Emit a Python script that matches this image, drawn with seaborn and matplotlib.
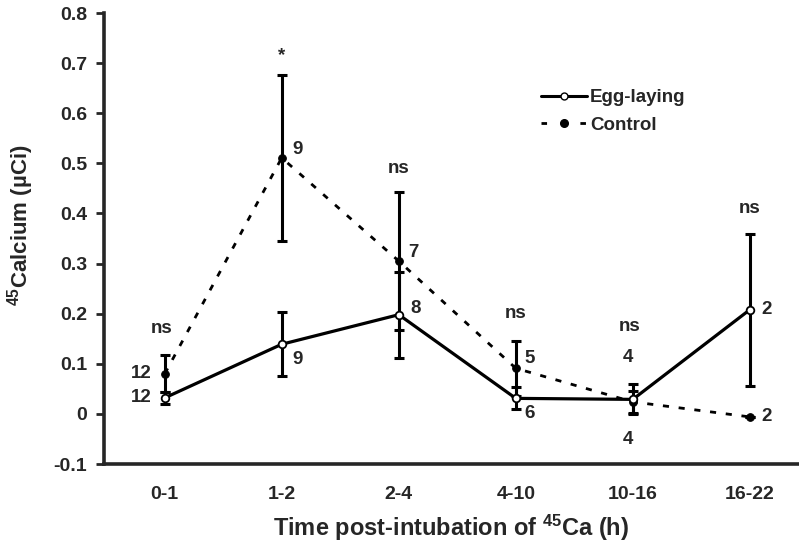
import numpy as np
import pandas as pd
import matplotlib
matplotlib.use("Agg")
import matplotlib.pyplot as plt
import seaborn as sns
from matplotlib.lines import Line2D

categories = ["0-1", "1-2", "2-4", "4-10", "10-16", "16-22"]
egg_mean = [0.032, 0.139, 0.198, 0.031, 0.029, 0.208]
egg_err = [0.012, 0.064, 0.086, 0.022, 0.030, 0.152]
ctrl_mean = [0.080, 0.511, 0.305, 0.091, 0.024, -0.006]
ctrl_err = [0.037, 0.165, 0.138, 0.055, 0.022, 0.0]
egg_n = ["12", "9", "8", "6", "4", "2"]
ctrl_n = ["12", "9", "7", "5", "4", "2"]
signif = ["ns", "*", "ns", "ns", "ns", "ns"]
signif_y = [0.17, 0.715, 0.49, 0.20, 0.174, 0.41]

sns.set_style("ticks")
plt.rcParams["font.family"] = ["Liberation Sans", "DejaVu Sans"]
plt.rcParams["font.weight"] = "bold"
plt.rcParams["mathtext.fontset"] = "custom"
plt.rcParams["mathtext.rm"] = "Liberation Sans:bold"
plt.rcParams["mathtext.bf"] = "Liberation Sans:bold"
plt.rcParams["mathtext.default"] = "bf"

x = np.arange(len(categories))
df = pd.DataFrame({
    "x": np.concatenate([x, x]),
    "y": egg_mean + ctrl_mean,
    "group": ["Egg-laying"] * len(x) + ["Control"] * len(x),
})

fig = plt.figure(figsize=(7.99, 5.45), dpi=100)
ax = fig.add_axes([0.130, 0.1486, 0.870, 0.8275])

# error bars
ax.errorbar(x, ctrl_mean, yerr=ctrl_err, fmt="none", ecolor="black",
            elinewidth=2.2, capsize=3.5, capthick=2.2, zorder=2)
ax.errorbar(x, egg_mean, yerr=egg_err, fmt="none", ecolor="black",
            elinewidth=2.2, capsize=3.5, capthick=2.2, zorder=2)

sns.lineplot(data=df[df.group == "Control"], x="x", y="y", ax=ax,
             color="black", linewidth=2.0, linestyle=(0, (2.2, 3.5)),
             marker="o", markersize=5.5, markerfacecolor="black",
             markeredgecolor="black", zorder=3, legend=False)
sns.lineplot(data=df[df.group == "Egg-laying"], x="x", y="y", ax=ax,
             color="black", linewidth=2.3, linestyle="-",
             marker="o", markersize=5.5, markerfacecolor="white",
             markeredgecolor="black", markeredgewidth=1.3, zorder=4, legend=False)

fs = 13.5
kw = dict(fontsize=fs, fontweight="bold", va="center")
# n labels
for i in range(len(x)):
    if i == 0:
        ax.text(i - 0.11, ctrl_mean[i], ctrl_n[i], ha="right", **kw)
        ax.text(i - 0.11, egg_mean[i], egg_n[i], ha="right", **kw)
    elif i == 1:
        ax.text(i + 0.09, 0.528, ctrl_n[i], ha="left", **kw)
        ax.text(i + 0.09, 0.108, egg_n[i], ha="left", **kw)
    elif i == 2:
        ax.text(i + 0.08, 0.322, ctrl_n[i], ha="left", **kw)
        ax.text(i + 0.1, 0.211, egg_n[i], ha="left", **kw)
    elif i == 3:
        ax.text(i + 0.07, 0.111, ctrl_n[i], ha="left", **kw)
        ax.text(i + 0.07, 0.0, egg_n[i], ha="left", **kw)
    elif i == 4:
        ax.text(i - 0.04, 0.112, ctrl_n[i], ha="center", **kw)
        ax.text(i - 0.04, -0.052, egg_n[i], ha="center", **kw)
    elif i == 5:
        ax.text(i + 0.1, egg_mean[i], egg_n[i], ha="left", **kw)
        ax.text(i + 0.1, ctrl_mean[i], ctrl_n[i], ha="left", **kw)

for i in range(len(x)):
    ax.text(i - (0.03 if i in (0, 4) else 0.0), signif_y[i], signif[i],
            ha="center", **kw)

ax.set_xlim(-0.52, 5.42)
ax.set_ylim(-0.1, 0.8)
ax.set_xticks(x)
ax.set_xticklabels(categories)
ax.set_yticks(np.round(np.arange(-0.1, 0.81, 0.1), 1))
ax.set_yticklabels(["-0.1", "0", "0.1", "0.2", "0.3", "0.4", "0.5", "0.6", "0.7", "0.8"])
ax.tick_params(axis="x", length=0, labelsize=14, pad=16)
ax.tick_params(axis="y", length=6, width=2, labelsize=14, pad=6)
for lab in ax.get_xticklabels() + ax.get_yticklabels():
    lab.set_fontweight("bold")

for s in ["top", "right"]:
    ax.spines[s].set_visible(False)
for s in ["left", "bottom"]:
    ax.spines[s].set_linewidth(2.6)

ax.set_xlabel("Time post-intubation of $^{45}$Ca (h)", fontsize=17, fontweight="bold")
ax.xaxis.set_label_coords(0.5, -0.108)
ax.set_ylabel("$^{45}$Calcium (µCi)", fontsize=16, fontweight="bold")
ax.yaxis.set_label_coords(-0.098, 0.53)

handles = [
    Line2D([0], [0], color="black", linewidth=2.2, marker="o", markersize=5,
           markerfacecolor="white", markeredgecolor="black"),
    Line2D([0], [0], color="black", linewidth=2.0, linestyle=(0, (2, 5)), marker="o",
           markersize=5.5, markerfacecolor="black"),
]
leg = ax.legend(handles, ["Egg-laying", "Control"], loc="center left",
                bbox_to_anchor=(0.605, 0.782), frameon=False, fontsize=fs,
                handlelength=2.45, handletextpad=0.15, labelspacing=0.55)
for t in leg.get_texts():
    t.set_fontweight("bold")

fig.savefig("out.png", dpi=100)
